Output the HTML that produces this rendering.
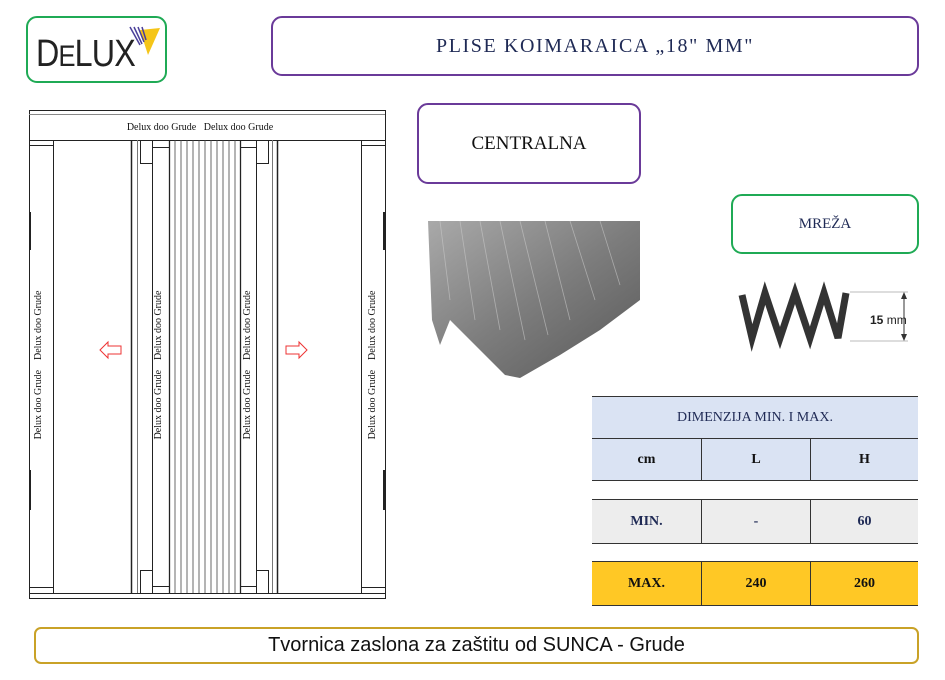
<!DOCTYPE html>
<html><head><meta charset="utf-8"><style>
body{margin:0;background:#fff;width:945px;height:680px;position:relative;overflow:hidden;font-family:"Liberation Serif",serif}
.box{position:absolute;box-sizing:border-box;border-radius:11px;background:#fff}
.t{position:absolute;display:flex;align-items:center;justify-content:center;box-sizing:border-box}
</style></head><body>
<div class="box" style="left:26px;top:16px;width:141px;height:67px;border:2px solid #1faa55"></div>
<div style="position:absolute;left:36px;top:33px;font-family:'Liberation Sans',sans-serif;font-size:38px;color:#222;letter-spacing:-1px;transform:scaleX(0.85);transform-origin:left">D<span style="font-size:30px">E</span>LUX</div>
<svg style="position:absolute;left:0;top:0" width="945" height="680">
<polygon points="140,30 160,28 148,55" fill="#f5c518"/>
<g stroke="#4a3f9a" stroke-width="1.5"><line x1="130" y1="27" x2="140" y2="45"/><line x1="134" y1="27" x2="142" y2="44"/><line x1="138" y1="27" x2="144" y2="42"/><line x1="142" y1="27" x2="146" y2="40"/></g>
</svg>
<div class="box" style="left:271px;top:16px;width:648px;height:60px;border:2px solid #6a3a99"></div>
<div class="t" style="left:271px;top:16px;width:648px;height:60px;font-size:20px;letter-spacing:1.6px;color:#1f2a55">PLISE KOIMARAICA „18" MM"</div>
<div class="box" style="left:417px;top:103px;width:224px;height:81px;border:2px solid #6a3a99"></div>
<div class="t" style="left:417px;top:103px;width:224px;height:81px;font-size:19px;color:#111">CENTRALNA</div>
<div class="box" style="left:731px;top:194px;width:188px;height:60px;border:2px solid #1faa55"></div>
<div class="t" style="left:731px;top:194px;width:188px;height:60px;font-size:15px;color:#1f2a55">MREŽA</div>

<svg style="position:absolute;left:0;top:0" width="945" height="680">
<defs>
<linearGradient id="g1" x1="0" y1="0" x2="1" y2="1"><stop offset="0" stop-color="#9a9a9a"/><stop offset="0.5" stop-color="#666"/><stop offset="1" stop-color="#3a3a3a"/></linearGradient>
</defs>
<polygon points="428,221 640,221 640,300 600,330 560,355 520,378 505,375 470,340 450,320 440,345 432,320" fill="url(#g1)" opacity="0.85"/>
<g stroke="#ccc" stroke-width="0.8" opacity="0.6">
<line x1="440" y1="221" x2="450" y2="300"/><line x1="460" y1="221" x2="475" y2="320"/><line x1="480" y1="221" x2="500" y2="330"/><line x1="500" y1="221" x2="525" y2="340"/><line x1="520" y1="221" x2="548" y2="335"/><line x1="545" y1="221" x2="570" y2="320"/><line x1="570" y1="221" x2="595" y2="300"/><line x1="600" y1="221" x2="620" y2="285"/></g>
<polyline points="742,295 752,338 765,293 780,338 795,293 810,338 824,293 838,338 846,293" fill="none" stroke="#333" stroke-width="7" stroke-linejoin="miter"/>
<line x1="850" y1="292" x2="908" y2="292" stroke="#bbb"/><line x1="850" y1="341" x2="908" y2="341" stroke="#bbb"/>
<line x1="904" y1="294" x2="904" y2="339" stroke="#333"/>
<polygon points="904,292 901,299 907,299" fill="#333"/><polygon points="904,341 901,334 907,334" fill="#333"/>
<text x="870" y="324" font-family="Liberation Sans" font-size="12" fill="#222"><tspan font-weight="bold">15</tspan> mm</text>

<g fill="none" stroke="#222" stroke-width="1">
<rect x="29.5" y="110.5" width="356" height="488"/>
<line x1="29" y1="114.5" x2="385" y2="114.5" stroke="#888"/>
<line x1="29" y1="140.5" x2="385" y2="140.5"/>
<line x1="29" y1="593.5" x2="385" y2="593.5"/>
<line x1="53.5" y1="140" x2="53.5" y2="593"/>
<line x1="29" y1="145.5" x2="53" y2="145.5"/><line x1="29" y1="587.5" x2="53" y2="587.5"/>
<line x1="361.5" y1="140" x2="361.5" y2="593"/>
<line x1="361" y1="145.5" x2="385" y2="145.5"/><line x1="361" y1="587.5" x2="385" y2="587.5"/>
<line x1="30" y1="212" x2="30" y2="250" stroke-width="2"/><line x1="30" y1="470" x2="30" y2="510" stroke-width="2"/>
<line x1="384" y1="212" x2="384" y2="250" stroke-width="2"/><line x1="384" y1="470" x2="384" y2="510" stroke-width="2"/>
<line x1="131.5" y1="140" x2="131.5" y2="593" stroke-width="1.5"/>
<line x1="137.5" y1="140" x2="137.5" y2="593" stroke="#777"/>
<path d="M140.5 140 V163.5 H152.5 V140"/>
<path d="M140.5 593 V570.5 H152.5 V593"/>
<line x1="152.5" y1="163" x2="152.5" y2="570"/>
<path d="M152.5 147.5 H169.5"/><path d="M152.5 586.5 H169.5"/>
<line x1="169.5" y1="140" x2="169.5" y2="593" stroke-width="1.3"/>
<line x1="240.5" y1="140" x2="240.5" y2="593" stroke-width="1.3"/>
<path d="M240.5 147.5 H256.5"/><path d="M240.5 586.5 H256.5"/>
<path d="M256.5 140 V163.5 H268.5 V140"/>
<path d="M256.5 593 V570.5 H268.5 V593"/>
<line x1="256.5" y1="163" x2="256.5" y2="570"/>
<line x1="272.5" y1="140" x2="272.5" y2="593" stroke="#777"/>
<line x1="277.5" y1="140" x2="277.5" y2="593" stroke-width="1.5"/>
</g>
<g stroke="#444" stroke-width="0.8">
<line x1="175" y1="140" x2="175" y2="593"/><line x1="181" y1="140" x2="181" y2="593"/><line x1="187" y1="140" x2="187" y2="593"/><line x1="193" y1="140" x2="193" y2="593"/><line x1="199" y1="140" x2="199" y2="593"/><line x1="205" y1="140" x2="205" y2="593"/><line x1="211" y1="140" x2="211" y2="593"/><line x1="217" y1="140" x2="217" y2="593"/><line x1="223" y1="140" x2="223" y2="593"/><line x1="229" y1="140" x2="229" y2="593"/><line x1="235" y1="140" x2="235" y2="593"/>
</g>
<text x="200" y="130" font-size="10" text-anchor="middle" fill="#111" xml:space="preserve">Delux doo Grude   Delux doo Grude</text>
<g font-size="10" fill="#111" text-anchor="middle">
<text transform="translate(41,365) rotate(-90)" xml:space="preserve">Delux doo Grude    Delux doo Grude</text>
<text transform="translate(161,365) rotate(-90)" xml:space="preserve">Delux doo Grude    Delux doo Grude</text>
<text transform="translate(250,365) rotate(-90)" xml:space="preserve">Delux doo Grude    Delux doo Grude</text>
<text transform="translate(375,365) rotate(-90)" xml:space="preserve">Delux doo Grude    Delux doo Grude</text>
</g>
<polygon points="100,350 108,342 108,346 121,346 121,354 108,354 108,358" fill="none" stroke="#e33" stroke-width="1"/>
<polygon points="307,350 299,342 299,346 286,346 286,354 299,354 299,358" fill="none" stroke="#e33" stroke-width="1"/>
</svg>

<div style="position:absolute;left:592px;top:396px;width:326px;font-size:14px;color:#1f2a55">
<div style="height:41px;background:#dae3f3;border-top:1px solid #333;border-bottom:1px solid #333;display:flex;align-items:center;justify-content:center">DIMENZIJA MIN. I MAX.</div>
<div style="height:41px;background:#dae3f3;border-bottom:1px solid #333;display:flex;font-weight:bold;color:#111">
<div style="width:109px;display:flex;align-items:center;justify-content:center;border-right:1px solid #333">cm</div>
<div style="width:108px;display:flex;align-items:center;justify-content:center;border-right:1px solid #333">L</div>
<div style="flex:1;display:flex;align-items:center;justify-content:center">H</div></div>
<div style="height:43px;margin-top:18px;background:#ededed;border-top:1px solid #333;border-bottom:1px solid #333;display:flex;font-weight:bold">
<div style="width:109px;display:flex;align-items:center;justify-content:center;border-right:1px solid #333">MIN.</div>
<div style="width:108px;display:flex;align-items:center;justify-content:center;border-right:1px solid #333">-</div>
<div style="flex:1;display:flex;align-items:center;justify-content:center">60</div></div>
<div style="height:43px;margin-top:17px;background:#ffc825;border-top:1px solid #333;border-bottom:1px solid #333;display:flex;font-weight:bold;color:#111">
<div style="width:109px;display:flex;align-items:center;justify-content:center;border-right:1px solid #333">MAX.</div>
<div style="width:108px;display:flex;align-items:center;justify-content:center;border-right:1px solid #333">240</div>
<div style="flex:1;display:flex;align-items:center;justify-content:center">260</div></div>
</div>

<div class="box" style="left:34px;top:627px;width:885px;height:37px;border:2px solid #c9a227;border-radius:7px"></div>
<div class="t" style="left:34px;top:627px;width:885px;height:37px;font-family:'Liberation Sans',sans-serif;font-size:20px;color:#111">Tvornica zaslona za zaštitu od SUNCA - Grude</div>
</body></html>
